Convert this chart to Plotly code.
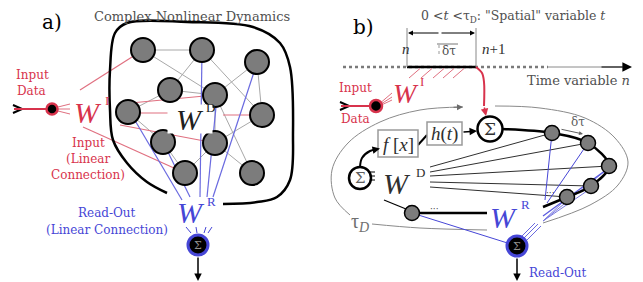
import plotly.graph_objects as go

# ---------------- data (pixel-space diagram coordinates) ----------------
# Panel a: reservoir nodes
NODE_A_X = [143, 202, 257, 170, 215, 128, 262, 163, 215, 185, 252]
NODE_A_Y = [50, 50, 62, 90, 95, 112, 115, 142, 143, 173, 173]
EDGES_A = [(0, 1), (0, 4), (1, 3), (1, 6), (2, 4), (2, 6), (3, 4), (3, 5),
           (4, 8), (4, 10), (6, 8), (7, 9), (8, 9), (8, 10), (5, 7), (7, 4)]
BLOB_X = [167, 147, 127, 113, 110, 110, 115, 127, 187, 253, 280, 290, 293, 290, 277, 257, 223]
BLOB_Y = [193, 182, 163, 140, 110, 70, 33, 23, 22, 27, 43, 67, 133, 180, 197, 202, 204]
RED_A = [((80, 90), (143, 50)), ((120, 104), (215, 95)), ((120, 113), (172, 113)),
         ((120, 125), (215, 143)), ((83, 127), (185, 173)), ((223, 115), (263, 115))]
BLUE_A = [((182, 200), (130, 112)), ((190, 197), (163, 142)), ((200, 197), (202, 50)),
          ((207, 197), (217, 97)), ((213, 197), (257, 63))]
INPUT_A = (52, 109)
SUM_A = (198, 245)

# Panel b
CHAIN_X = [552, 588, 609, 591, 567]
CHAIN_Y = [133, 143, 166, 186, 197]
EXTRA_NODE_B = (412, 213)
SUM_BIG = (490, 129)
SUM_LEFT = (360, 178)
SUM_OUT = (517, 246)
INPUT_B = (376, 106)
BOX_F = (378, 130, 418, 157)
BOX_H = (427, 122, 462, 145)
LOOP_TL_X = [463, 420, 380, 348, 332, 335, 350]
LOOP_TL_Y = [107, 110, 122, 143, 170, 198, 215]
LOOP_B_X = [372, 420, 487]
LOOP_B_Y = [224, 228, 230]
LOOP_R_X = [495, 540, 585, 615, 628, 618, 590, 543]
LOOP_R_Y = [106, 108, 118, 138, 162, 185, 205, 223]
WD_START_Y = [167, 172, 176, 182, 187]
TIMELINE_Y = 67
SEG_N, SEG_N1 = 407, 476

RED = "#d8334c"
BLUE = "#4646d6"
GRAY_TXT = "#505050"
SERIF = "DejaVu Serif"
TIMES = "Liberation Serif"

fig = go.Figure()


def line(xs, ys, color="black", width=1, dash=None, shape="linear"):
    fig.add_trace(go.Scatter(x=list(xs), y=list(ys), mode="lines",
                             line=dict(color=color, width=width, dash=dash, shape=shape),
                             hoverinfo="skip", showlegend=False))


def seg(p, q, color="black", width=1):
    line([p[0], q[0]], [p[1], q[1]], color, width)


def nodes(xs, ys, size, fill, edge="black", ew=2):
    fig.add_trace(go.Scatter(x=list(xs), y=list(ys), mode="markers",
                             marker=dict(size=size, color=fill, line=dict(color=edge, width=ew)),
                             hoverinfo="skip", showlegend=False))


def txt(x, y, s, size, color="black", family=SERIF, xanchor="center"):
    fig.add_annotation(x=x, y=y, text=s, showarrow=False, xanchor=xanchor, yanchor="middle",
                       font=dict(family=family, size=size, color=color))


def arrow(tail, head, color="black", width=1.5, size=1.0, head_style=2):
    fig.add_annotation(x=head[0], y=head[1], ax=tail[0], ay=tail[1], xref="x", yref="y",
                       axref="x", ayref="y", text="", showarrow=True, arrowhead=head_style,
                       arrowsize=size, arrowwidth=width, arrowcolor=color)


# ================= Panel a =================
for i, j in EDGES_A:
    seg((NODE_A_X[i], NODE_A_Y[i]), (NODE_A_X[j], NODE_A_Y[j]), "#a8a8a8", 1)
for p, q in RED_A:
    seg(p, q, "#e07080", 1.2)
for p, q in BLUE_A:
    seg(p, q, "#6a6ae0", 1.2)
line(BLOB_X, BLOB_Y, "black", 2.5, shape="spline")
nodes(NODE_A_X, NODE_A_Y, 24, "#7c7c7c", "black", 2)

# input
line([13, 22, 13], [105, 109, 113], "black", 2)
seg((14, 109), (46, 109), RED, 2)
for dy in (-5, 0, 5):
    seg((58, 109 + dy * 0.4), (70, 109 + dy), "#e07080", 1)
nodes([INPUT_A[0]], [INPUT_A[1]], 11, "black", RED, 2.5)

# read-out
for x0, x1 in ((186, 191), (196, 197), (206, 204), (212, 208)):
    seg((x0, 227), (x1, 233), BLUE, 1)
arrow((SUM_A[0], 256), (SUM_A[0], 281), "black", 1.5)
nodes([SUM_A[0]], [SUM_A[1]], 20, "black", BLUE, 3)
txt(SUM_A[0], SUM_A[1], "Σ", 11, "#909090")

txt(52, 22, "a)", 20, "black")
txt(192, 16, "Complex Nonlinear Dynamics", 13, GRAY_TXT)
txt(32, 75, "Input", 12, RED)
txt(31, 91, "Data", 12, RED)
txt(88, 112, "<i>W</i>", 30, RED, TIMES)
txt(107, 100, "I", 13, RED, TIMES)
fig.add_annotation(x=190, y=119, text="", showarrow=False, width=42, height=26, bgcolor="white")
txt(190, 119, "<i>W</i>", 30, "#202020", TIMES)
txt(210, 107, "D", 13, "#202020", TIMES)
txt(88, 143, "Input", 12, RED)
txt(88, 159, "(Linear", 12, RED)
txt(88, 175, "Connection)", 12, RED)
txt(191, 212, "<i>W</i>", 30, BLUE, TIMES)
txt(211, 201, "R", 13, BLUE, TIMES)
txt(107, 213, "Read-Out", 12, BLUE)
txt(107, 230, "(Linear Connection)", 12, BLUE)

# ================= Panel b =================
# loop (gray)
line(LOOP_TL_X[::-1], LOOP_TL_Y[::-1], "#8a8a8a", 1, shape="spline")
arrow((452, 107.3), (LOOP_TL_X[0], LOOP_TL_Y[0]), "#6a6a6a", 1, 1.2)
line(LOOP_B_X, LOOP_B_Y, "#8a8a8a", 1, shape="spline")
line(LOOP_R_X, LOOP_R_Y, "#8a8a8a", 1, shape="spline")

# timeline
line([343, 548], [TIMELINE_Y, TIMELINE_Y], "#7a7a7a", 2.5, dash="dot")
line([548, 622], [TIMELINE_Y, TIMELINE_Y], "#8a8a8a", 1)
arrow((600, TIMELINE_Y), (632, TIMELINE_Y), "black", 1.2, 1.6)
line([SEG_N, SEG_N1], [TIMELINE_Y, TIMELINE_Y], "black", 2.5)
seg((SEG_N, 28), (SEG_N, TIMELINE_Y), "#888888", 1)
seg((SEG_N1, 28), (SEG_N1, TIMELINE_Y), "#888888", 1)
arrow((440, 33), (SEG_N + 1, 33), "black", 1, 1)
arrow((440, 33), (SEG_N1 - 1, 33), "black", 1, 1)
seg((437, 44), (458, 44), "#777777", 1)
line([439, 439], [45, 55], "#999999", 1, dash="dot")
txt(406, 49, "<i>n</i>", 15, "#303030", TIMES)
txt(493, 49, "<i>n</i>+1", 15, "#303030", TIMES)
txt(449, 51, "δτ", 12, "#505050")
txt(632, 80, "Time variable <i>n</i>", 13, GRAY_TXT, xanchor="right")
txt(363, 27, "b)", 20, "black")
txt(513, 16, "0 &lt;<i>t</i> &lt;τ<sub>D</sub>: \"Spatial\" variable <i>t</i>", 12.5, GRAY_TXT)

# red hatch from W^I to timeline
for x in (409, 421, 433, 443, 453):
    seg((x, 78), (x + 11, 68.5), "#e07080", 1)

# input b
line([340, 349, 340], [102, 106, 110], "black", 2)
seg((341, 106), (370, 106), RED, 2)
for dy in (-4, 0, 3):
    seg((381, 104 + dy * 0.4), (392, 97 + dy), "#e07080", 1)
nodes([INPUT_B[0]], [INPUT_B[1]], 12, "black", RED, 2.5)
txt(355, 88, "Input", 12, RED)
txt(355, 119, "Data", 12, RED)
txt(406, 93, "<i>W</i>", 28, RED, TIMES)
txt(422, 81, "I", 13, RED, TIMES)

# red curve from segment end to big sum
line([SEG_N1, 482, 484, 484], [TIMELINE_Y, 73, 82, 106], RED, 2, shape="spline")
arrow((484, 106), (486, 116), RED, 1.5, 1)

# W^D fan lines
for yy, xn, yn in zip(WD_START_Y, CHAIN_X, CHAIN_Y):
    seg((430, yy), (xn, yn), "#303030", 1)

# blue read-out lines
seg((545, 200), (CHAIN_X[0], CHAIN_Y[0]), BLUE, 1)
seg((547, 203), (CHAIN_X[1], CHAIN_Y[1]), BLUE, 1)
for k in (2, 3, 4):
    seg((543, 221), (CHAIN_X[k] - 4, CHAIN_Y[k] + 5), "#7a7ae0", 1)
seg((543, 216), (606, 170), "#5a5ae0", 1.3)
seg(EXTRA_NODE_B, SUM_OUT, BLUE, 1)
for x0, y0 in ((524, 238), (527, 240), (521, 237)):
    seg((x0, y0), (x0 + 14, y0 - 14), "#6a6ae0", 1)

# thick black chain
line([SUM_BIG[0] + 12] + CHAIN_X + [543], [SUM_BIG[1]] + CHAIN_Y + [207], "black", 2.5, shape="spline")
txt(550, 193, "···", 9, "#404040")

# left sum connections
line([360, 362, 370, 378], [167, 158, 151, 149], "black", 2, shape="spline")
arrow((373, 150), (380, 148.5), "black", 1.5, 1)
for yy in (172, 176, 180):
    seg((370, yy), (375, yy), "black", 1)
seg((384, 200), (406, 209), "black", 1.2)
line([EXTRA_NODE_B[0], 487], [213, 213], "black", 2.5)
txt(434, 209, "···", 9, "#404040")

# boxes
for b in (BOX_F, BOX_H):
    fig.add_shape(type="rect", x0=b[0], y0=b[1], x1=b[2], y1=b[3],
                  line=dict(color="#9a9a9a", width=1.5), fillcolor="white")
seg((418, 145), (427, 135), "black", 2)
arrow((462, 132), (477, 131), "black", 1.5, 1)
txt(398, 144, "<i>f</i> [<i>x</i>]", 19, "#303030", TIMES)
txt(444, 134, "<i>h</i>(<i>t</i>)", 19, "#303030", TIMES)

# nodes b
nodes(CHAIN_X, CHAIN_Y, 15, "#7c7c7c", "black", 1.5)
nodes([EXTRA_NODE_B[0]], [EXTRA_NODE_B[1]], 15, "#7c7c7c", "black", 1.5)
nodes([SUM_BIG[0]], [SUM_BIG[1]], 25, "white", "black", 2.5)
txt(SUM_BIG[0], SUM_BIG[1], "Σ", 17, "#303030")
nodes([SUM_LEFT[0]], [SUM_LEFT[1]], 22, "white", "black", 2.5)
txt(SUM_LEFT[0], SUM_LEFT[1], "Σ", 15, "#606060")
arrow((SUM_OUT[0], 257), (SUM_OUT[0], 281), "black", 1.5)
nodes([SUM_OUT[0]], [SUM_OUT[1]], 20, "black", BLUE, 3)
txt(SUM_OUT[0], SUM_OUT[1], "Σ", 11, "#909090")

# delta tau on chain
txt(578, 122, "δτ", 12, "#606060")
arrow((560, 129), (583, 134), "#606060", 1, 0.8)

txt(397, 183, "<i>W</i>", 30, "#303030", TIMES)
txt(420, 172, "D", 13, "#303030", TIMES)
txt(504, 217, "<i>W</i>", 30, BLUE, TIMES)
txt(525, 204, "R", 13, BLUE, TIMES)
txt(360, 222, "τ<sub><i>D</i></sub>", 20, "#707070", TIMES)
txt(527, 273, "Read-Out", 12, BLUE, xanchor="left")

fig.update_layout(
    width=643, height=282, margin=dict(l=0, r=0, t=0, b=0),
    paper_bgcolor="white", plot_bgcolor="white",
    xaxis=dict(range=[0, 643], visible=False, fixedrange=True),
    yaxis=dict(range=[282, 0], visible=False, fixedrange=True),
)
fig.write_html("out.html", config={"displayModeBar": False},
               post_script="document.body.style.margin='0';document.body.style.overflow='hidden';")
